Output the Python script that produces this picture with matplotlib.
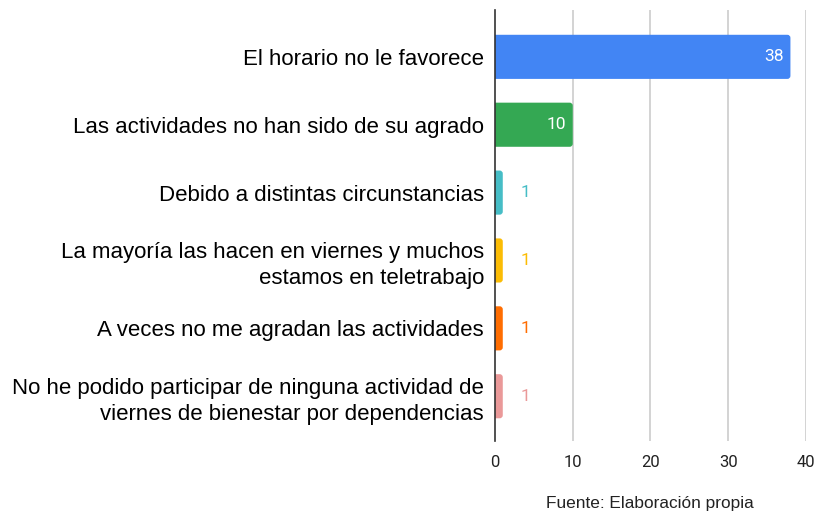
"""Horizontal bar chart of reasons for not joining the Friday wellbeing activities."""

import matplotlib

matplotlib.use("Agg")
import matplotlib.pyplot as plt
from matplotlib.patches import FancyBboxPatch

categories = [
    "El horario no le favorece",
    "Las actividades no han sido de su agrado",
    "Debido a distintas circunstancias",
    "La mayoría las hacen en viernes y muchos\nestamos en teletrabajo",
    "A veces no me agradan las actividades",
    "No he podido participar de ninguna actividad de\nviernes de bienestar por dependencias",
]
counts = [38, 10, 1, 1, 1, 1]
colors = ["#4285F4", "#34A853", "#46BDC6", "#FBBC04", "#FF6D01", "#EA9999"]
xticks = [0, 10, 20, 30, 40]

fig = plt.figure(figsize=(8.19, 5.16), dpi=100)
ax = fig.add_axes([0.6044, 0.1453, 0.3797, 0.8353])
ax.set_xlim(0, 40)
ax.set_ylim(5.66, -0.69)

bar_h = 0.65
radius = 0.4
# keep the corner radius round in pixels: x and y data units differ in size
px_x = 0.3797 * 819 / 40
px_y = 0.8353 * 516 / 6.35
aspect = px_x / px_y
for i, (val, col) in enumerate(zip(counts, colors)):
    patch = FancyBboxPatch(
        (-1.0, i - bar_h / 2), val + 1.0, bar_h,
        boxstyle=f"round,pad=0,rounding_size={radius}",
        mutation_aspect=aspect,
        facecolor=col, edgecolor="none", zorder=2,
    )
    ax.add_patch(patch)
    if val >= 5:
        ax.annotate(str(val), (val, i), xytext=(-5, 0), textcoords="offset points",
                    ha="right", va="center", color="white", fontsize=12.5,
                    family="Roboto", zorder=3)
    else:
        ax.annotate(str(val), (val, i), xytext=(16, 0), textcoords="offset points",
                    ha="center", va="center", color=col, fontsize=12.5,
                    family="Roboto", zorder=3)

ax.set_yticks(range(len(categories)))
ax.set_yticklabels(categories, fontsize=16, family="Liberation Sans",
                   ha="right", multialignment="right", linespacing=1.3)
ax.set_xticks(xticks)
ax.set_xticklabels([str(t) for t in xticks], fontsize=12, family="Roboto",
                   color="#222222")
ax.tick_params(axis="both", length=0)
ax.tick_params(axis="y", pad=8)
ax.tick_params(axis="x", pad=10)

for t in xticks[1:]:
    ax.axvline(t, color="#cccccc", linewidth=1.2, zorder=1)
for side in ("top", "right", "bottom"):
    ax.spines[side].set_visible(False)
ax.spines["left"].set_color("#333333")
ax.spines["left"].set_linewidth(1.2)
ax.spines["left"].set_zorder(4)

fig.text(0.794, 0.025, "Fuente: Elaboración propia", ha="center", va="center",
         fontsize=12.4, family="Liberation Sans", color="#222222")

fig.savefig("out.png", dpi=100)
